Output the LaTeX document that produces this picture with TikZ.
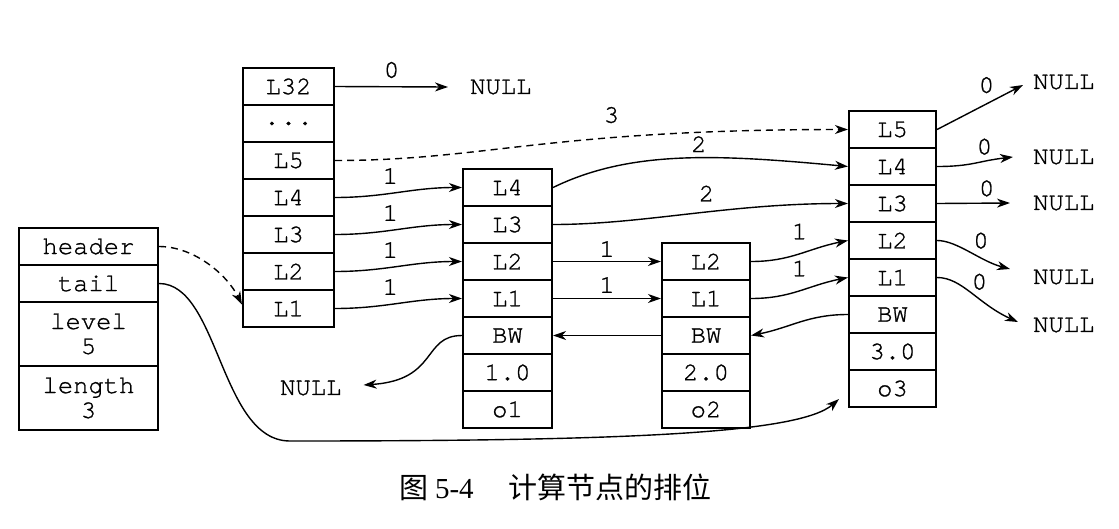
\documentclass[tikz,border=0pt]{standalone}
\usepackage{fontspec}
\setmainfont{Liberation Serif}
\newfontfamily\monof[FakeBold=1]{TeX Gyre Cursor}
\newfontfamily\cjkf{Noto Sans CJK SC}
\usetikzlibrary{arrows.meta,calc}
\begin{document}
\begin{tikzpicture}[x=1pt,y=-1pt,
  cell/.style={draw, line width=2.1pt, inner sep=0pt, minimum height=37pt,
    font={\monof\fontsize{25.5}{25}\selectfont}, align=center},
  lbl/.style={inner sep=0pt, font={\monof\fontsize{25.5}{25}\selectfont}},
  nul/.style={inner sep=0pt, anchor=west, font={\monof\fontsize{25.5}{25}\selectfont}},
  arr/.style={line width=1.4pt, -{Stealth[length=13pt,width=9pt,inset=4pt]}},
  dsh/.style={dash pattern=on 7pt off 5pt}]
\useasboundingbox (0,0) rectangle (1119,528);

% zskiplist structure
\node[cell, minimum width=139pt] (lh) at (88.5,246.5) {header};
\node[cell, minimum width=139pt] (lt) at (88.5,283.5) {tail};
\node[cell, minimum width=139pt, minimum height=64pt] (llv) at (88.5,334) {level\\5};
\node[cell, minimum width=139pt, minimum height=64pt] (lln) at (88.5,398) {length\\3};

% header node
\node[cell, minimum width=91pt] (h32) at (288.5,86.5) {L32};
\node[cell, minimum width=91pt] (hdots) at (288.5,123.5) {.\kern0.05em.\kern0.05em.};
\node[cell, minimum width=91pt] (h5) at (288.5,160.5) {L5};
\node[cell, minimum width=91pt] (h4) at (288.5,197.5) {L4};
\node[cell, minimum width=91pt] (h3) at (288.5,234.5) {L3};
\node[cell, minimum width=91pt] (h2) at (288.5,271.5) {L2};
\node[cell, minimum width=91pt] (h1) at (288.5,308.5) {L1};

% node o1
\node[cell, minimum width=89pt] (a4) at (507.5,187.5) {L4};
\node[cell, minimum width=89pt] (a3) at (507.5,224.5) {L3};
\node[cell, minimum width=89pt] (a2) at (507.5,261.5) {L2};
\node[cell, minimum width=89pt] (a1) at (507.5,298.5) {L1};
\node[cell, minimum width=89pt] (abw) at (507.5,335.5) {BW};
\node[cell, minimum width=89pt] (asc) at (507.5,372.5) {1.0};
\node[cell, minimum width=89pt] (aob) at (507.5,409.5) {o1};

% node o2
\node[cell, minimum width=88pt] (b2) at (706,261.5) {L2};
\node[cell, minimum width=88pt] (b1) at (706,298.5) {L1};
\node[cell, minimum width=88pt] (bbw) at (706,335.5) {BW};
\node[cell, minimum width=88pt] (bsc) at (706,372.5) {2.0};
\node[cell, minimum width=88pt] (bob) at (706,409.5) {o2};

% node o3
\node[cell, minimum width=87pt] (c5) at (892.5,129.5) {L5};
\node[cell, minimum width=87pt] (c4) at (892.5,166.5) {L4};
\node[cell, minimum width=87pt] (c3) at (892.5,203.5) {L3};
\node[cell, minimum width=87pt] (c2) at (892.5,240.5) {L2};
\node[cell, minimum width=87pt] (c1) at (892.5,277.5) {L1};
\node[cell, minimum width=87pt] (cbw) at (892.5,314.5) {BW};
\node[cell, minimum width=87pt] (csc) at (892.5,351.5) {3.0};
\node[cell, minimum width=87pt] (cob) at (892.5,388.5) {o3};

% NULL nodes
\node[nul] (ntop) at (470,87) {NULL};
\node[nul] (nbl) at (280,388) {NULL};
\node[nul] (nr5) at (1033,82) {NULL};
\node[nul] (nr4) at (1033,157) {NULL};
\node[nul] (nr3) at (1033,203) {NULL};
\node[nul] (nr2) at (1033,277) {NULL};
\node[nul] (nr1) at (1033,325) {NULL};

% header pointers
\draw[arr] (h32.east) -- node[lbl, above=8pt] {0} ([xshift=-22pt]ntop.west);
\draw[arr, dsh] (h5.east) .. controls +(150,0) and +(-300,0) .. node[lbl, pos=0.66, above=14pt] {3} (c5.west);
\draw[arr] (h4.east) to[out=0,in=180] node[lbl, pos=0.43, above=9pt] {1} (a4.west);
\draw[arr] (h3.east) to[out=0,in=180] node[lbl, pos=0.43, above=9pt] {1} (a3.west);
\draw[arr] (h2.east) to[out=0,in=180] node[lbl, pos=0.43, above=9pt] {1} (a2.west);
\draw[arr] (h1.east) to[out=0,in=180] node[lbl, pos=0.43, above=9pt] {1} (a1.west);

% o1 pointers
\draw[arr] (a4.east) .. controls +(78,-38) and +(-129,-12) .. node[lbl, pos=0.56, above=5pt] {2} (c4.west);
\draw[arr] (a3.east) .. controls +(90,0) and +(-120,0) .. node[lbl, pos=0.56, above=10pt] {2} (c3.west);
\draw[arr] (a2.east) -- node[lbl, above=4pt] {1} (b2.west);
\draw[arr] (a1.east) -- node[lbl, above=5pt] {1} (b1.west);
\draw[arr] (abw.west) .. controls +(-40,0) and +(75,-5) .. ([xshift=22pt,yshift=3pt]nbl.east);

% o2 pointers
\draw[arr] (b2.east) .. controls +(40,0) and +(-40,8) .. node[lbl, above=14pt] {1} (c2.west);
\draw[arr] (b1.east) .. controls +(40,0) and +(-40,8) .. node[lbl, above=14pt] {1} (c1.west);
\draw[arr] (bbw.west) -- (abw.east);

% o3 pointers
\draw[arr] (cbw.west) .. controls +(-40,0) and +(40,-8) .. (bbw.east);
\draw[arr] (c5.east) -- node[lbl, pos=0.575, above=10pt] {0} ([xshift=-10pt,yshift=-3pt]nr5.west);
\draw[arr] (c4.east) .. controls +(35,0) and +(-35,4) .. node[lbl, pos=0.65, above=6pt] {0} ([xshift=-20pt]nr4.west);
\draw[arr] (c3.east) -- node[lbl, pos=0.68, above=6pt] {0} ([xshift=-23pt]nr3.west);
\draw[arr] (c2.east) .. controls +(20,0) and +(-30,-8) .. node[lbl, pos=0.65, above=8pt] {0} ([xshift=-23pt,yshift=8pt]nr2.west);
\draw[arr] (c1.east) .. controls +(25,0) and +(-40,-18) .. node[lbl, pos=0.6, above=8pt] {0} ([xshift=-15pt,yshift=3pt]nr1.west);

% zskiplist pointers
\draw[arr, dsh] (lh.east) .. controls +(35,0) and +(-15,-30) .. ([yshift=4pt]h1.west);
\coordinate (tb) at (290,441);
\draw[arr] (lt.east) .. controls +(60,0) and +(-70,0) .. (tb)
  .. controls +(330,0) and +(-40,35) .. ([shift={(-9,-9)}]cob.south west);

% caption
\node (cap) at (555.5,487) {\fontsize{29}{29}\selectfont\cjkf 图 \rmfamily 5-4\hspace{1.2em}\cjkf 计算节点的排位};
\end{tikzpicture}
\end{document}
